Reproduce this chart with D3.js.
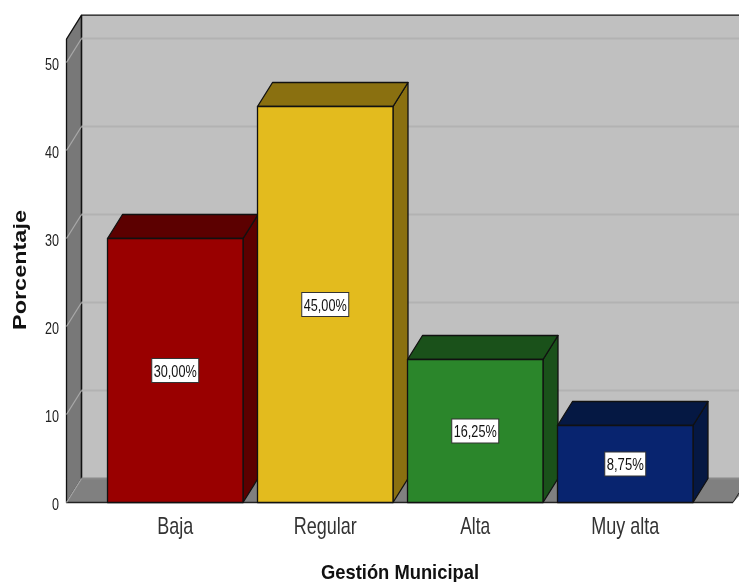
<!DOCTYPE html>
<html><head><meta charset="utf-8">
<script src="https://cdn.jsdelivr.net/npm/d3@7"></script>
<style>html,body{margin:0;padding:0;background:#fff;overflow:hidden}svg{display:block;filter:blur(0.35px)}text{font-family:"Liberation Sans",Arial,sans-serif}</style>
</head><body><svg id="c" width="739" height="582"></svg>
<script>
const categories = ["Baja","Regular","Alta","Muy alta"];
const values = [30,45,16.25,8.75];
const valueLabels = ["30,00%","45,00%","16,25%","8,75%"];
const frontColors = ["#990000","#e3bb1e","#2b862b","#08246f"];
const topColors = ["#5c0000","#8a7010","#1a511a","#051843"];
const sideColors = ["#5c0000","#8a7010","#1a511a","#051843"];
const yTicks = [0,10,20,30,40,50];
const yTitle = "Porcentaje", xTitle = "Gestión Municipal";

const svg = d3.select("#c");
const dx = 15, dy = -24;
const y = d3.scaleLinear().domain([0,50]).range([502.5,62.5]);
const x = d3.scaleBand().domain(categories).range([82.5,718]).paddingInner(0.0967).paddingOuter(0.1667);
const wallLeft = 66.5, wallRight = 733, yMax = 52.65;
const poly = (pts,fill,stroke="#111",sw=1.3)=>svg.append("polygon").attr("points",pts.map(p=>p.join(",")).join(" ")).attr("fill",fill).attr("stroke",stroke).attr("stroke-width",sw).attr("stroke-linejoin","round");

svg.append("rect").attr("x",wallLeft+dx).attr("y",y(yMax)+dy).attr("width",739-wallLeft-dx+2).attr("height",y(0)-y(yMax)).attr("fill","#c0c0c0");
svg.append("line").attr("x1",wallLeft+dx).attr("x2",739).attr("y1",y(yMax)+dy).attr("y2",y(yMax)+dy).attr("stroke","#111").attr("stroke-width",1.3);
poly([[wallLeft,y(0)],[wallLeft,y(yMax)],[wallLeft+dx,y(yMax)+dy],[wallLeft+dx,y(0)+dy]],"#787878");
poly([[wallLeft,y(0)],[wallLeft+dx,y(0)+dy],[755,y(0)+dy],[wallRight,y(0)]],"#808080","none",0);
svg.append("line").attr("x1",wallLeft+dx).attr("x2",wallLeft+dx).attr("y1",y(yMax)+dy).attr("y2",y(0)+dy).attr("stroke","#111").attr("stroke-width",1.3);
svg.append("line").attr("x1",wallLeft).attr("x2",wallRight).attr("y1",y(0)).attr("y2",y(0)).attr("stroke","#222").attr("stroke-width",1.6);
svg.append("line").attr("x1",wallRight).attr("x2",739).attr("y1",y(0)).attr("y2",y(0)+(739-wallRight)/dx*dy).attr("stroke","#222").attr("stroke-width",1);
yTicks.forEach(t=>{
  svg.append("line").attr("x1",wallLeft+dx).attr("x2",739).attr("y1",y(t)+dy).attr("y2",y(t)+dy).attr("stroke",t===0?"#8a8a8a":"#b2b2b2").attr("stroke-width",2);
  svg.append("line").attr("x1",wallLeft).attr("x2",wallLeft+dx).attr("y1",y(t)).attr("y2",y(t)+dy).attr("stroke","#a8a8a8").attr("stroke-width",1.2);
});
categories.forEach((c,i)=>{
  const x0=x(c), x1=x0+x.bandwidth(), yt=y(values[i]), yb=y(0);
  poly([[x1,yb],[x1,yt],[x1+dx,yt+dy],[x1+dx,yb+dy]],sideColors[i]);
  poly([[x0,yt],[x0+dx,yt+dy],[x1+dx,yt+dy],[x1,yt]],topColors[i]);
  poly([[x0,yb],[x0,yt],[x1,yt],[x1,yb]],frontColors[i]);
  const cx=(x0+x1)/2, cy=(yt+yb)/2;
  const w = valueLabels[i].length>5?47:41;
  svg.append("rect").attr("x",cx-w/2).attr("y",cy-12).attr("width",w).attr("height",24).attr("fill","#fff").attr("stroke","#333").attr("stroke-width",1);
  svg.append("text").attr("x",cx).attr("y",cy+6).attr("text-anchor","middle").attr("font-size",17)
    .attr("textLength",w-4).attr("lengthAdjust","spacingAndGlyphs").attr("fill","#111").text(valueLabels[i]);
  svg.append("text").attr("x",cx).attr("y",534).attr("text-anchor","middle").attr("font-size",24)
    .attr("textLength",[36,63,30,68][i]).attr("lengthAdjust","spacingAndGlyphs").attr("fill","#333").text(c);
});
yTicks.forEach(t=>{
  svg.append("text").attr("x",59).attr("y",y(t)+7.5).attr("text-anchor","end").attr("font-size",17)
    .attr("textLength",t===0?7:14).attr("lengthAdjust","spacingAndGlyphs").attr("fill","#222").text(t);
});
svg.append("text").attr("transform","translate(26,270) rotate(-90)").attr("text-anchor","middle").attr("font-size",18).attr("font-weight","bold")
  .attr("textLength",120).attr("lengthAdjust","spacingAndGlyphs").attr("fill","#111").text(yTitle);
svg.append("text").attr("x",400).attr("y",579).attr("text-anchor","middle").attr("font-size",21).attr("font-weight","bold")
  .attr("textLength",158).attr("lengthAdjust","spacingAndGlyphs").attr("fill","#111").text(xTitle);
</script></body></html>
